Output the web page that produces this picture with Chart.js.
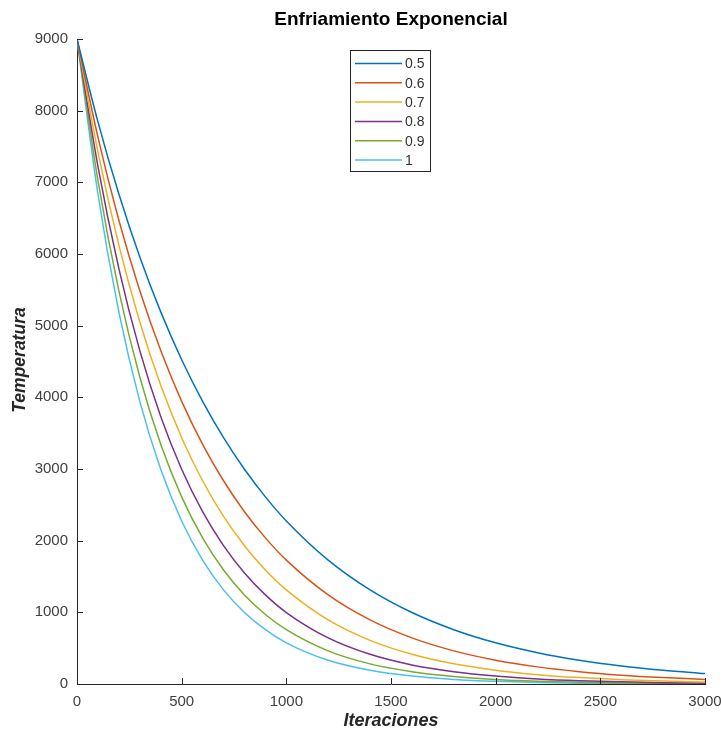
<!DOCTYPE html>
<html>
<head>
<meta charset="utf-8">
<script src="https://cdn.jsdelivr.net/npm/chart.js@4/dist/chart.umd.min.js"></script>
<style>
  html, body { margin: 0; padding: 0; background: #ffffff; }
  #wrap { width: 721px; height: 731px; }
</style>
</head>
<body>
<div id="wrap"><canvas id="c" width="721" height="731"></canvas></div>
<script>
// ---- data ----
const iterations = [0, 100, 200, 300, 400, 500, 600, 700, 800, 900, 1000,
                    1200, 1400, 1600, 1800, 2000, 2200, 2400, 2600, 2800, 3000];
const seriesLabels = ['0.5', '0.6', '0.7', '0.8', '0.9', '1'];
const temp05 = [9000, 7843, 6836, 5958, 5192, 4525, 3944, 3437, 2996, 2611, 2275,
                1728, 1313, 997, 758, 575, 437, 332, 252, 192, 145];
const temp06 = [9000, 7631, 6470, 5486, 4652, 3944, 3344, 2836, 2404, 2039, 1728,
                1243, 894, 643, 462, 332, 239, 172, 123, 89, 64];
const temp07 = [9000, 7424, 6124, 5052, 4167, 3437, 2836, 2339, 1930, 1591, 1313,
                894, 608, 414, 281, 192, 130, 89, 60, 41, 28];
const temp08 = [9000, 7223, 5796, 4652, 3733, 2996, 2404, 1930, 1548, 1243, 997,
                643, 414, 266, 172, 111, 71, 46, 30, 19, 12];
const temp09 = [9000, 7026, 5486, 4283, 3344, 2611, 2039, 1591, 1243, 970, 758,
                462, 281, 172, 105, 64, 39, 24, 14, 9, 5];
const temp10 = [9000, 6836, 5192, 3944, 2996, 2275, 1728, 1313, 997, 758, 575,
                332, 192, 111, 64, 37, 21, 12, 7, 4, 2];
const xTicks = [0, 500, 1000, 1500, 2000, 2500, 3000];
const yTicks = [0, 1000, 2000, 3000, 4000, 5000, 6000, 7000, 8000, 9000];
const titleText = 'Enfriamiento Exponencial';
const xTitle = 'Iteraciones';
const yTitle = 'Temperatura';

const colors = ['#0072BD', '#D95319', '#EDB120', '#7E2F8E', '#77AC30', '#4DBEEE'];
const allSeries = [temp05, temp06, temp07, temp08, temp09, temp10];
const FONT = '"Liberation Sans", Arial, Helvetica, sans-serif';
const AXIS_COLOR = '#262626';

const datasets = allSeries.map((vals, i) => ({
  label: seriesLabels[i],
  data: iterations.map((x, j) => ({ x: x, y: vals[j] })),
  borderColor: colors[i],
  backgroundColor: colors[i],
  borderWidth: 1.5,
  pointRadius: 0,
  fill: false,
  cubicInterpolationMode: 'monotone'
}));

const decorPlugin = {
  id: 'decor',
  afterDraw(chart) {
    const ctx = chart.ctx;
    const area = chart.chartArea;
    const xs = chart.scales.x, ys = chart.scales.y;
    ctx.save();
    // inward tick marks
    ctx.strokeStyle = AXIS_COLOR;
    ctx.lineWidth = 1;
    xTicks.forEach(v => {
      const px = Math.round(xs.getPixelForValue(v)) + 0.5;
      ctx.beginPath(); ctx.moveTo(px, area.bottom); ctx.lineTo(px, area.bottom - 6); ctx.stroke();
    });
    yTicks.forEach(v => {
      const py = Math.round(ys.getPixelForValue(v)) + 0.5;
      ctx.beginPath(); ctx.moveTo(area.left, py); ctx.lineTo(area.left + 6, py); ctx.stroke();
    });
    // title
    const cx = (area.left + area.right) / 2;
    ctx.fillStyle = '#000000';
    ctx.font = 'bold 19px ' + FONT;
    ctx.textAlign = 'center';
    ctx.textBaseline = 'middle';
    ctx.fillText(titleText, cx, 20);
    // axis titles
    ctx.fillStyle = '#262626';
    ctx.font = 'italic bold 18px ' + FONT;
    ctx.fillText(xTitle, cx, 721);
    ctx.save();
    ctx.translate(20, 360);
    ctx.rotate(-Math.PI / 2);
    ctx.font = 'italic bold 17.5px ' + FONT;
    ctx.fillText(yTitle, 0, 0);
    ctx.restore();
    // legend
    const bx = 350.5, by = 50.5, bw = 80, bh = 121;
    ctx.fillStyle = '#ffffff';
    ctx.fillRect(bx, by, bw, bh);
    ctx.strokeStyle = '#262626';
    ctx.lineWidth = 1;
    ctx.strokeRect(bx, by, bw, bh);
    ctx.font = '14px ' + FONT;
    ctx.textAlign = 'left';
    ctx.textBaseline = 'middle';
    chart.data.datasets.forEach((ds, i) => {
      const y = 63.5 + i * 19.3;
      ctx.strokeStyle = ds.borderColor;
      ctx.lineWidth = 1.5;
      ctx.beginPath(); ctx.moveTo(355, y); ctx.lineTo(402, y); ctx.stroke();
      ctx.fillStyle = '#333333';
      ctx.fillText(ds.label, 405, y + 1);
    });
    ctx.restore();
  }
};

new Chart(document.getElementById('c'), {
  type: 'line',
  data: { datasets: datasets },
  options: {
    responsive: false,
    animation: false,
    devicePixelRatio: 1,
    layout: { padding: { top: 39, right: 16, bottom: 0, left: 0 } },
    plugins: {
      legend: { display: false },
      title: { display: false },
      tooltip: { enabled: false }
    },
    scales: {
      x: {
        type: 'linear',
        min: 0, max: 3000,
        afterFit(scale) { scale.height = 47; scale.paddingLeft = 0; scale.paddingRight = 0; },
        afterBuildTicks(scale) { scale.ticks = xTicks.map(v => ({ value: v })); },
        grid: { display: false, drawTicks: false },
        border: { display: true, color: AXIS_COLOR, width: 1 },
        ticks: {
          padding: 9,
          color: '#404040',
          font: { family: FONT, size: 15 },
          maxRotation: 0,
          autoSkip: false,
          callback: (v) => String(v)
        }
      },
      y: {
        type: 'linear',
        min: 0, max: 9000,
        afterFit(scale) { scale.width = 77; scale.paddingTop = 0; scale.paddingBottom = 0; },
        afterBuildTicks(scale) { scale.ticks = yTicks.map(v => ({ value: v })); },
        grid: { display: false, drawTicks: false },
        border: { display: true, color: AXIS_COLOR, width: 1 },
        ticks: {
          padding: 9,
          color: '#404040',
          font: { family: FONT, size: 15 },
          autoSkip: false,
          callback: (v) => String(v)
        }
      }
    }
  },
  plugins: [decorPlugin]
});
</script>
</body>
</html>
